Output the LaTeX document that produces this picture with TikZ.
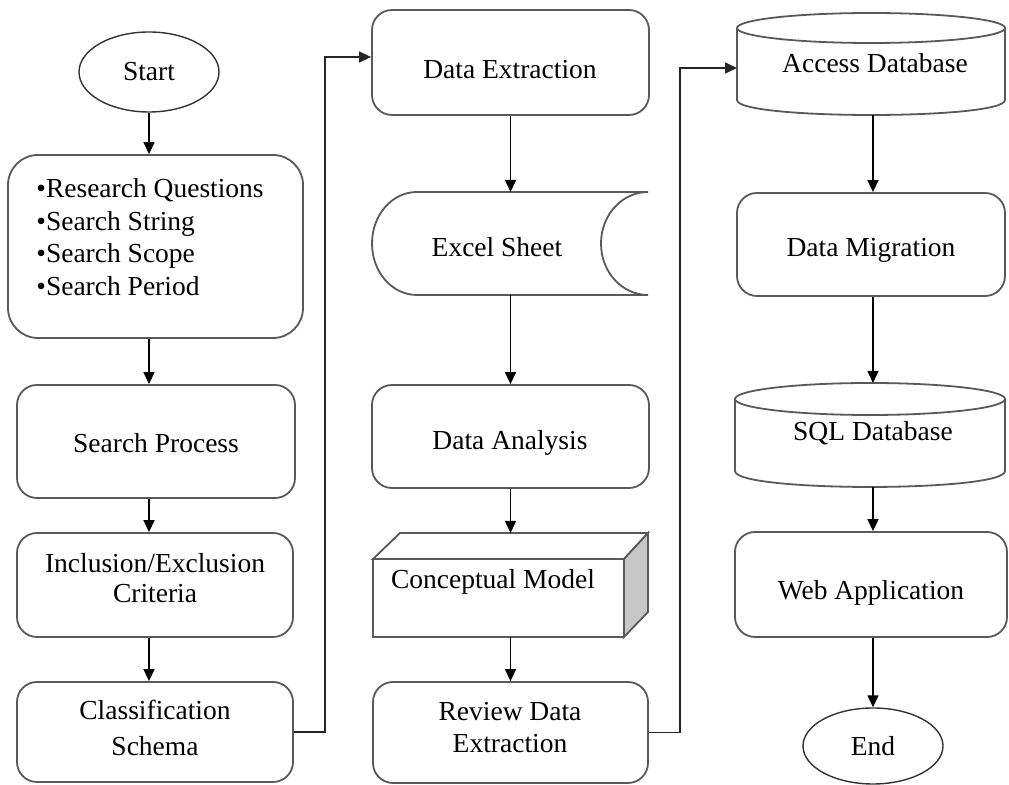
\documentclass[tikz,border=0pt]{standalone}
\usepackage{fontspec}
\setmainfont{Liberation Serif}
\usetikzlibrary{arrows.meta,shapes.geometric}
\begin{document}
\begin{tikzpicture}[x=0.5pt,y=-0.5pt,
  box/.style={draw=black!65, line width=0.9pt, rounded corners=10pt, rectangle, inner sep=0pt},
  oval/.style={draw=black!80, line width=0.7pt, ellipse, inner sep=0pt, font=\fontsize{13.75}{16}\selectfont},
  shp/.style={draw=black!65, line width=0.9pt},
  arr/.style={draw=black, line width=0.75pt, -{Triangle[length=6pt,width=5.5pt]}},
  link/.style={draw=black!85, line width=0.75pt, -{Triangle[length=6pt,width=5.5pt]}},
  txt/.style={font=\fontsize{13.75}{16}\selectfont, align=center, inner sep=0pt},
]
\useasboundingbox (0,0) rectangle (1009,785);

% ---------- column 1 ----------
\node[oval, minimum width=70pt, minimum height=40pt] (start) at (149,72) {Start};
\node[box, rounded corners=15pt, minimum width=147.5pt, minimum height=91.5pt] (b1) at (155.5,246.5) {};
\node[txt, align=left, anchor=west, font=\fontsize{13.75}{16.25}\selectfont] (b1t) at (36,237)
  {•Research Questions\\•Search String\\•Search Scope\\•Search Period};
\node[box, minimum width=139pt, minimum height=56.5pt] (sp) at (156,441.5) {};
\node[txt] (spt) at (156,443) {Search Process};
\node[box, minimum width=138pt, minimum height=52pt] (ie) at (155,585) {};
\node[txt, font=\fontsize{13.75}{15}\selectfont] (iet) at (155,578) {Inclusion/Exclusion\\Criteria};
\node[box, minimum width=138pt, minimum height=50pt] (cs) at (155,732) {};
\node[txt, font=\fontsize{13.75}{18.3}\selectfont] (cst) at (155,728) {Classification\\Schema};

% ---------- column 2 ----------
\node[box, minimum width=138.5pt, minimum height=52.5pt] (de) at (510.5,62.5) {};
\node[txt] (det) at (510,70) {Data Extraction};

\draw[shp] (417,192) -- (648,192)
  .. controls (622,192) and (601,215) .. (601,243.5)
  .. controls (601,272) and (622,295) .. (648,295)
  -- (417,295)
  .. controls (392,295) and (372,272) .. (372,243.5)
  .. controls (372,215) and (392,192) .. (417,192);
\coordinate (es-n) at (510.5,192);
\coordinate (es-s) at (510.5,295);
\node[txt] (est) at (497,247) {Excel Sheet};

\node[box, minimum width=138.5pt, minimum height=51.5pt] (da) at (510.5,436.5) {};
\node[txt] (dat) at (510,443) {Data Analysis};

\draw[shp, fill=white] (373,559) -- (400,533) -- (648,533) -- (624,559) -- cycle;
\draw[shp, fill=black!22] (624,559) -- (648,533) -- (648,612) -- (624,637) -- cycle;
\draw[shp, fill=white] (373,559) rectangle (624,637);
\coordinate (cm-n) at (510.5,533);
\coordinate (cm-s) at (510.5,637);
\node[txt] (cmt) at (493,582) {Conceptual Model};

\node[box, minimum width=137.5pt, minimum height=50.5pt] (rde) at (510.5,732.5) {};
\node[txt, font=\fontsize{13.75}{15.8}\selectfont] (rdet) at (510,727.5) {Review Data\\Extraction};

% ---------- column 3 ----------
\draw[shp] (737,28) -- (737,100) .. controls (737,120) and (1005,120) .. (1005,100) -- (1005,28);
\draw[shp] (871,28) ellipse [x radius=67pt, y radius=7.5pt];
\coordinate (ac-w) at (737,68);
\coordinate (ac-s) at (873,115);
\node[txt] (act) at (875,63) {Access Database};

\node[box, minimum width=134pt, minimum height=51.5pt] (dm) at (871,244.5) {};
\node[txt] (dmt) at (871,250) {Data Migration};

\draw[shp] (735,399) -- (735,471) .. controls (735,492.3) and (1005,492.3) .. (1005,471) -- (1005,399);
\draw[shp] (870,399) ellipse [x radius=67.5pt, y radius=8pt];
\coordinate (sq-n) at (873,383);
\coordinate (sq-s) at (873,487);
\node[txt] (sqt) at (873,433) {SQL Database};

\node[box, minimum width=136pt, minimum height=52.5pt] (wa) at (871,584.5) {};
\node[txt] (wat) at (871,593) {Web Application};

\node[oval, minimum width=70pt, minimum height=38pt] (end) at (873,746) {End};

% ---------- arrows ----------
\draw[arr] (start.south) -- (start.south |- b1.north);
\draw[arr] (start.south |- b1.south) -- (start.south |- sp.north);
\draw[arr] (start.south |- sp.south) -- (start.south |- ie.north);
\draw[arr] (start.south |- ie.south) -- (start.south |- cs.north);

\draw[arr] (de.south) -- (es-n);
\draw[arr] (es-s) -- (da.north);
\draw[arr] (da.south) -- (cm-n);
\draw[arr] (cm-s) -- (rde.north);

\draw[arr] (ac-s) -- (ac-s |- dm.north);
\draw[arr] (ac-s |- dm.south) -- (sq-n);
\draw[arr] (sq-s) -- (sq-s |- wa.north);
\draw[arr] (end.north |- wa.south) -- (end.north);

\coordinate (k1) at (325,57);
\draw[link] (cs.east) -| (k1) -- (k1 -| de.west);
\coordinate (k2) at (680,68);
\draw[link] (rde.east) -| (k2) -- (ac-w);
\end{tikzpicture}
\end{document}
